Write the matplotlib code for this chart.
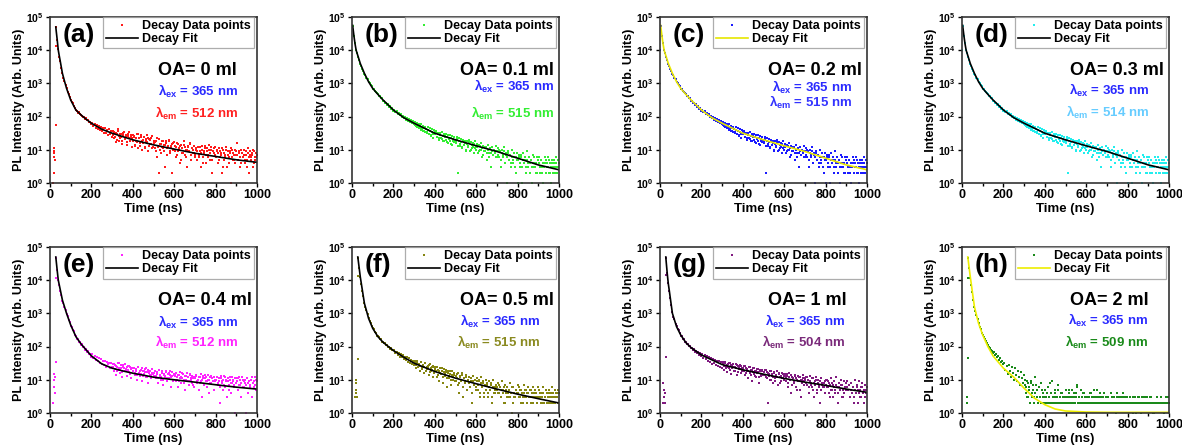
"""TRPL decay curves for the eight OA amounts, 2 x 4 grid -> out.png"""
import numpy as np
import matplotlib
matplotlib.use("Agg")
import matplotlib.pyplot as plt
from matplotlib.ticker import FixedLocator, MultipleLocator, NullLocator

plt.rcParams["font.family"] = ["Liberation Sans", "DejaVu Sans"]
plt.rcParams["font.weight"] = "bold"
plt.rcParams["mathtext.fontset"] = "custom"
plt.rcParams["mathtext.rm"] = "Liberation Sans:bold"
plt.rcParams["mathtext.it"] = "Liberation Sans:bold"
plt.rcParams["mathtext.bf"] = "Liberation Sans:bold"

N = np.nan

# time channels of the measured points (ns)
T_DATA = np.arange(5, 1001, 5)          # 5 ... 1000
T_TAIL = np.arange(302.5, 1000, 5)      # 302.5 ... 997.5 (extra channels in the tail)

# --- measured counts, one row = 100 ns ---
A_DATA = [
    N, N, N, N, N, 50000, 21000, 10500, 6300, 4600, 2900, 2050, 1500, 1200, 890, 720, 560, 490, 380, 320,
    270, 250, 205, 185, 160, 150, 132, 141, 118, 115, 104, 96, 98, 86, 88, 77, 80, 68, 70, 60,
    66, 52, 61, 45, 57, 43, 53, 39, 50, 36, 46, 31, 44, 33, 40, 27, 42, 30, 37, 25,
    38, 22, 33, 17, 29, 41, 19, 30, 24, 15, 33, 21, 28, 14, 26, 35, 18, 24, 12, 27,
    25, 13, 19, 30, 11, 22, 16, 27, 10, 20, 24, 12, 18, 28, 9, 21, 15, 23, 11, 19,
    17, 9, 22, 12, 2, 15, 8, 19, 11, 14, 3, 18, 7, 13, 20, 9, 12, 2, 16, 10,
    13, 6, 16, 9, 11, 4, 14, 8, 18, 7, 10, 3, 12, 9, 15, 5, 11, 8, 13, 6,
    10, 5, 12, 7, 9, 3, 13, 6, 8, 11, 4, 9, 7, 14, 5, 10, 2, 8, 12, 6,
    9, 4, 11, 6, 8, 2, 10, 5, 7, 12, 3, 9, 6, 8, 1, 10, 5, 7, 4, 9,
    16, 5, 8, 3, 10, 6, 7, 4, 9, 5, 11, 2, 7, 6, 8, 3, 9, 5, 6, 7,
]
A_TAIL = [
    27, 35, 24, 31, 20, 37, 26, 22, 30, 18, 28, 34, 21, 25, 17, 30, 23, 19, 27, 22,
    18, 26, 14, 22, 17, 29, 13, 24, 19, 16, 25, 11, 21, 17, 23, 13, 20, 15, 26, 12,
    16, 11, 19, 6, 13, 21, 10, 15, 12, 18, 9, 14, 16, 11, 19, 8, 13, 15, 10, 17,
    9, 12, 7, 15, 10, 13, 5, 11, 8, 14, 12, 6, 10, 13, 9, 16, 7, 11, 10, 8,
    7, 11, 9, 6, 12, 8, 10, 4, 9, 13, 7, 11, 6, 10, 8, 12, 5, 9, 11, 7,
    6, 10, 8, 5, 9, 7, 11, 3, 8, 6, 10, 7, 4, 9, 11, 6, 8, 5, 10, 7,
    7, 5, 9, 6, 4, 8, 6, 10, 5, 7, 3, 8, 6, 9, 5, 7, 10, 4, 6, 8,
]
# (b), (c) and (d) show the same measured set
BCD_DATA = [
    52000, 26000, 16500, 9800, 8100, 6200, 5100, 3900, 3400, 2750, 2400, 1950, 1780, 1480, 1320, 1090, 1020, 870, 810, 690,
    670, 590, 570, 500, 490, 425, 415, 360, 355, 300, 305, 265, 265, 230, 232, 200, 205, 175, 178, 150,
    160, 135, 145, 118, 130, 108, 118, 96, 106, 88, 98, 79, 90, 74, 84, 67, 78, 62, 72, 58,
    70, 52, 64, 47, 60, 44, 58, 41, 53, 38, 50, 35, 47, 30, 45, 28, 42, 22, 39, 36,
    36, 24, 33, 20, 31, 22, 35, 19, 29, 25, 30, 17, 28, 21, 27, 15, 26, 19, 24, 16,
    24, 2, 22, 13, 21, 11, 20, 14, 19, 10, 18, 12, 20, 9, 17, 11, 16, 8, 18, 10,
    15, 8, 14, 10, 16, 6, 13, 9, 12, 5, 14, 8, 11, 3, 12, 7, 10, 9, 13, 6,
    11, 6, 9, 3, 10, 7, 12, 4, 8, 1, 9, 5, 7, 3, 10, 4, 6, 2, 8, 1,
    7, 3, 6, 1, 8, 4, 5, 2, 9, 3, 6, 4, 5, 1, 7, 3, 4, 2, 6, 5,
    6, 2, 5, 3, 1, 4, 5, 3, 6, 2, 4, 1, 5, 3, 4, 2, 6, 3, 5, 4,
]
BCD_TAIL = [
    55, 62, 48, 57, 44, 51, 40, 49, 37, 45, 34, 42, 32, 39, 30, 37, 26, 34, 29, 31,
    29, 34, 25, 30, 22, 28, 21, 26, 18, 27, 20, 24, 16, 22, 19, 23, 14, 21, 17, 20,
    17, 21, 13, 19, 15, 17, 12, 18, 14, 16, 9, 15, 13, 17, 10, 14, 12, 15, 11, 13,
    12, 14, 9, 13, 10, 11, 7, 12, 9, 11, 8, 10, 6, 11, 8, 9, 7, 10, 8, 6,
    9, 7, 10, 5, 8, 6, 9, 4, 7, 6, 8, 5, 7, 4, 6, 5, 8, 3, 6, 5,
    5, 6, 4, 7, 3, 5, 4, 6, 3, 5, 4, 2, 5, 3, 4, 6, 3, 4, 2, 5,
    4, 3, 5, 2, 4, 3, 6, 2, 4, 3, 5, 2, 3, 4, 2, 5, 3, 4, 2, 3,
]
E_DATA = [
    N, N, N, N, N, 48000, 21000, 9800, 7300, 4800, 3650, 2400, 2050, 1520, 1300, 960, 840, 650, 565, 430,
    395, 310, 285, 225, 210, 172, 170, 140, 139, 114, 116, 97, 99, 81, 84, 69, 72, 58, 61, 49,
    58, 44, 52, 40, 47, 36, 45, 33, 41, 30, 38, 27, 36, 24, 34, 29, 31, 22, 33, 25,
    30, 18, 27, 14, 25, 20, 32, 16, 23, 12, 28, 19, 21, 13, 26, 17, 24, 11, 22, 18,
    22, 14, 19, 10, 25, 16, 13, 20, 9, 18, 15, 21, 12, 17, 8, 19, 14, 11, 16, 13,
    18, 11, 15, 8, 20, 13, 10, 16, 7, 14, 12, 17, 9, 15, 11, 19, 6, 13, 10, 14,
    15, 9, 12, 6, 14, 11, 8, 16, 10, 5, 13, 9, 12, 7, 15, 10, 8, 11, 6, 12,
    13, 8, 10, 5, 12, 9, 3, 11, 7, 14, 9, 6, 10, 4, 12, 8, 11, 5, 9, 10,
    12, 7, 9, 2, 11, 8, 5, 13, 6, 10, 3, 9, 7, 12, 4, 8, 10, 6, 1, 11,
    9, 5, 12, 7, 3, 10, 6, 8, 1, 11, 4, 9, 7, 10, 3, 8, 6, 12, 5, 9,
]
E_TAIL = [
    24, 29, 21, 26, 19, 31, 23, 20, 27, 17, 25, 22, 29, 18, 24, 20, 26, 15, 21, 23,
    19, 23, 16, 21, 14, 24, 18, 15, 22, 13, 19, 17, 23, 12, 20, 16, 18, 14, 21, 15,
    16, 19, 13, 17, 11, 20, 14, 12, 18, 10, 15, 13, 19, 11, 16, 14, 12, 17, 9, 15,
    13, 16, 10, 14, 9, 17, 12, 11, 15, 8, 13, 10, 16, 12, 9, 14, 11, 13, 7, 12,
    11, 14, 9, 12, 8, 15, 10, 13, 7, 11, 12, 9, 14, 10, 8, 13, 11, 9, 12, 10,
    10, 12, 8, 11, 6, 13, 9, 10, 7, 12, 9, 11, 5, 10, 8, 12, 9, 7, 11, 8,
    9, 11, 7, 10, 8, 12, 6, 9, 10, 7, 11, 8, 9, 6, 10, 12, 8, 9, 7, 10,
]
F_DATA = [
    N, N, N, N, N, 47000, 24000, 12500, 7600, 4800, 3300, 2050, 1600, 1280, 980, 720, 600, 520, 410, 360,
    330, 270, 262, 215, 212, 190, 168, 165, 140, 142, 124, 126, 110, 112, 97, 100, 86, 90, 78, 79,
    80, 62, 70, 56, 66, 50, 60, 47, 55, 43, 50, 39, 47, 35, 44, 32, 40, 29, 36, 28,
    36, 22, 33, 25, 30, 18, 34, 24, 28, 16, 31, 21, 26, 14, 29, 19, 24, 12, 25, 20,
    24, 12, 20, 9, 22, 15, 18, 8, 21, 13, 17, 6, 19, 11, 15, 7, 18, 10, 14, 9,
    15, 7, 4, 13, 9, 16, 3, 11, 8, 14, 5, 10, 12, 6, 9, 2, 13, 7, 10, 5,
    11, 5, 9, 3, 12, 6, 8, 4, 10, 7, 3, 9, 5, 8, 2, 10, 6, 4, 7, 5,
    8, 4, 6, 3, 9, 5, 2, 7, 4, 6, 3, 5, 8, 4, 1, 6, 3, 5, 4, 7,
    6, 3, 5, 4, 2, 7, 3, 5, 4, 6, 3, 5, 2, 4, 6, 3, 5, 4, 3, 6,
    5, 3, 4, 2, 6, 3, 5, 4, 2, 5, 3, 4, 6, 3, 2, 5, 4, 3, 5, 4,
]
F_TAIL = [
    33, 28, 38, 24, 30, 26, 35, 21, 27, 24, 32, 19, 25, 22, 28, 17, 23, 20, 26, 16,
    21, 18, 25, 14, 19, 16, 22, 12, 17, 15, 20, 11, 16, 13, 18, 10, 14, 12, 16, 9,
    13, 11, 16, 8, 12, 10, 14, 6, 11, 9, 12, 5, 10, 8, 11, 4, 9, 7, 10, 6,
    9, 7, 10, 4, 8, 6, 9, 3, 7, 5, 8, 4, 6, 5, 7, 3, 6, 4, 5, 6,
    6, 4, 7, 3, 5, 4, 6, 2, 5, 3, 4, 5, 3, 4, 6, 2, 4, 3, 5, 4,
    4, 3, 5, 2, 4, 3, 4, 5, 3, 2, 4, 3, 5, 3, 2, 4, 3, 4, 2, 3,
    3, 4, 2, 3, 4, 2, 3, 5, 2, 3, 4, 2, 3, 2, 4, 3, 2, 3, 4, 2,
]
G_DATA = [
    N, N, N, N, N, 48000, 17000, 8300, 4600, 3000, 1750, 1080, 780, 660, 490, 410, 335, 310, 250, 215,
    210, 172, 170, 140, 138, 118, 120, 101, 104, 88, 93, 79, 83, 70, 76, 64, 69, 57, 63, 52,
    60, 45, 55, 41, 52, 38, 49, 35, 46, 30, 43, 33, 40, 28, 38, 26, 36, 24, 34, 22,
    34, 20, 31, 25, 17, 29, 22, 33, 15, 27, 24, 19, 30, 14, 26, 21, 28, 16, 23, 19,
    26, 14, 22, 18, 11, 24, 16, 20, 9, 23, 15, 19, 12, 21, 17, 8, 20, 13, 18, 14,
    20, 12, 17, 2, 15, 10, 19, 13, 8, 16, 11, 14, 18, 7, 15, 12, 9, 16, 11, 13,
    15, 9, 13, 6, 16, 10, 4, 12, 8, 14, 11, 5, 13, 9, 12, 3, 10, 14, 7, 11,
    12, 7, 10, 4, 13, 8, 6, 11, 3, 9, 12, 5, 10, 7, 2, 11, 8, 6, 9, 10,
    10, 6, 8, 3, 11, 5, 7, 9, 4, 12, 6, 2, 8, 5, 10, 7, 3, 9, 6, 8,
    9, 5, 7, 3, 8, 6, 2, 10, 4, 7, 5, 9, 3, 6, 8, 4, 2, 7, 5, 6,
]
G_TAIL = [
    31, 26, 35, 22, 28, 25, 32, 20, 27, 23, 30, 19, 25, 22, 28, 17, 24, 21, 26, 18,
    23, 19, 26, 16, 21, 18, 24, 14, 20, 17, 22, 13, 19, 16, 21, 12, 18, 15, 20, 14,
    17, 14, 20, 11, 16, 13, 18, 10, 15, 12, 17, 9, 14, 12, 16, 8, 13, 11, 15, 10,
    13, 11, 15, 8, 12, 10, 14, 7, 11, 9, 13, 6, 10, 9, 12, 5, 10, 8, 11, 9,
    10, 8, 12, 6, 9, 7, 11, 5, 8, 7, 10, 4, 8, 6, 9, 5, 7, 6, 8, 4,
    7, 6, 9, 4, 7, 5, 8, 3, 6, 5, 7, 4, 6, 5, 7, 3, 5, 4, 6, 5,
    6, 5, 7, 3, 5, 4, 6, 3, 5, 4, 6, 2, 4, 5, 3, 6, 4, 5, 3, 4,
]
H_DATA = [
    N, N, N, N, N, 48000, 24000, 12000, 7000, 4300, 2600, 1600, 1220, 900, 680, 520, 400, 330, 265, 230,
    200, 170, 150, 128, 115, 100, 92, 80, 76, 65, 70, 55, 60, 48, 52, 40, 45, 35, 38, 30,
    32, 20, 26, 15, 28, 18, 12, 24, 16, 10, 22, 14, 9, 19, 12, 7, 17, 11, 8, 14,
    10, 6, 3, 8, 5, 2, 9, 4, 7, 3, 12, 5, 2, 6, 3, 8, 2, 4, 3, 5,
    3, 2, 6, 3, 2, 4, 9, 2, 3, 5, 2, 3, 7, 2, 3, 4, 2, 3, 2, 5,
    2, 3, 4, 2, 3, 5, 2, 3, 2, 4, 6, 2, 3, 2, 5, 3, 2, 4, 2, 3,
    2, 3, 2, 4, 2, 3, 2, 5, 2, 3, 2, 2, 4, 3, 2, 3, 2, 2, 3, 2,
    3, 2, 2, 4, 2, 3, 2, 2, 1, 3, 2, 2, 3, 2, 2, 4, 2, 3, 2, 2,
    2, 3, 2, 2, 1, 2, 3, 2, 2, 2, 3, 2, 1, 2, 2, 3, 2, 2, 3, 2,
    2, 2, 3, 2, 1, 2, 2, 3, 2, 2, 2, 3, 2, 2, 1, 2, 3, 2, 2, 2,
]
H_TAIL = [
    7, 4, 9, 3, 6, 2, 8, 3, 5, 2, 4, 7, 3, 2, 6, 3, 2, 5, 3, 2,
    3, 2, 4, 2, 3, 8, 2, 3, 2, 4, 3, 2, 5, 2, 3, 2, 4, 3, 2, 3,
    2, 3, 2, 5, 3, 2, 3, 2, 4, 2, 3, 7, 2, 3, 2, 3, 4, 2, 3, 2,
    3, 2, 3, 2, 4, 2, 3, 2, 3, 2, 5, 3, 2, 3, 2, 2, 3, 4, 2, 3,
    2, 3, 2, 2, 3, 2, 3, 2, 2, 4, 2, 3, 2, 2, 3, 2, 3, 2, 2, 3,
    2, 2, 3, 2, 2, 3, 2, 2, 1, 2, 3, 2, 2, 3, 2, 2, 2, 3, 2, 2,
    2, 3, 2, 2, 2, 1, 2, 2, 3, 2, 2, 2, 3, 2, 2, 1, 2, 2, 2, 3,
]

# stray points before / at the excitation pulse
A_EXTRA_T, A_EXTRA = [15, 17, 18, 19, 20, 21, 22, 28, 28], [1, 2, 8, 11, 6, 9, 5, 13000, 55]
BCD_EXTRA_T, BCD_EXTRA = [1], [10000]
E_EXTRA_T, E_EXTRA = [15, 18, 20, 21, 22, 24, 28, 28], [2, 10, 15, 6, 12, 4, 12000, 35]
F_EXTRA_T, F_EXTRA = [15, 17, 18, 20, 21, 22, 28, 28], [3, 10, 5, 8, 4, 3, 13000, 42]
G_EXTRA_T, G_EXTRA = [14, 16, 18, 20, 22, 24, 28, 28], [8, 2, 5, 3, 4, 2, 14000, 50]
H_EXTRA_T, H_EXTRA = [22, 24, 25, 28, 28], [2, 3, 2, 12000, 45]

# --- fitted decay curves ---
FIT_T = [28, 30, 35, 40, 45, 50, 60, 70, 80, 100, 125, 150, 175, 200, 250, 300,
         350, 400, 450, 500, 600, 700, 800, 900, 1000]
BCD_FIT_T = [3, 5, 10, 15, 20, 30, 40, 50, 60, 80, 100, 125, 150, 175, 200, 250,
             300, 350, 400, 450, 500, 600, 700, 800, 900, 1000]
A_FIT = [50000, 38000, 20000, 10000, 6600, 4470, 2000, 1175, 708, 316, 158, 112, 83,
         63, 41.7, 31.6, 25.1, 20, 16.8, 14.1, 10.5, 7.9, 6.3, 5.0, 4.2]
BCD_FIT = [56000, 44700, 25100, 15100, 10000, 6310, 3980, 2820, 2000, 1120, 708, 468,
           316, 224, 158, 93, 63, 44.7, 31.6, 25.1, 20, 13.2, 8.9, 5.6, 3.5, 2.5]
E_FIT = [50000, 38000, 19000, 10000, 7080, 5010, 2510, 1585, 1000, 447, 200, 120, 79,
         52.5, 30.2, 22.4, 18.6, 15.8, 13.8, 12.0, 10.0, 8.5, 7.1, 6.0, 5.25]
F_FIT = [50000, 40000, 22400, 12600, 7940, 5010, 2000, 1200, 708, 355, 200, 135, 101,
         76, 48, 31.6, 23.7, 17.8, 14.1, 11.2, 7.6, 5.25, 3.7, 2.7, 2.0]
G_FIT = [50000, 35500, 15800, 7940, 4790, 2820, 1000, 631, 398, 224, 132, 93, 72,
         56, 40, 28.8, 24, 20, 17.2, 14.8, 11, 8.5, 6.8, 5.25, 4.2]
H_FIT = [50000, 40000, 22400, 12600, 7600, 4470, 1585, 891, 501, 224, 100, 52.5, 34.3,
         22.4, 12.0, 5.6, 2.8, 1.78, 1.32, 1.15, 1.07, 1.05, 1.05, 1.05, 1.05]

LETTERS = ["(a)", "(b)", "(c)", "(d)", "(e)", "(f)", "(g)", "(h)"]
OA_LABELS = ["OA= 0 ml", "OA= 0.1 ml", "OA= 0.2 ml", "OA= 0.3 ml",
             "OA= 0.4 ml", "OA= 0.5 ml", "OA= 1 ml", "OA= 2 ml"]
EM_NM = [512, 515, 515, 514, 512, 515, 504, 509]
EX_NM = 365

DATA = [A_DATA, BCD_DATA, BCD_DATA, BCD_DATA, E_DATA, F_DATA, G_DATA, H_DATA]
TAIL = [A_TAIL, BCD_TAIL, BCD_TAIL, BCD_TAIL, E_TAIL, F_TAIL, G_TAIL, H_TAIL]
EXTRA_T = [A_EXTRA_T, BCD_EXTRA_T, BCD_EXTRA_T, BCD_EXTRA_T, E_EXTRA_T, F_EXTRA_T, G_EXTRA_T, H_EXTRA_T]
EXTRA = [A_EXTRA, BCD_EXTRA, BCD_EXTRA, BCD_EXTRA, E_EXTRA, F_EXTRA, G_EXTRA, H_EXTRA]
FITS_T = [FIT_T, BCD_FIT_T, BCD_FIT_T, BCD_FIT_T, FIT_T, FIT_T, FIT_T, FIT_T]
FITS = [A_FIT, BCD_FIT, BCD_FIT, BCD_FIT, E_FIT, F_FIT, G_FIT, H_FIT]

# styling
DATA_COL = ["#ff1a1a", "#33ee33", "#1a1aff", "#22eeee", "#ff22ff", "#858510", "#801a80", "#1a8a1a"]
FIT_COL = ["black", "black", "#e6e600", "black", "black", "black", "black", "#eeee00"]
EM_COL = ["#ff2020", "#33ee33", "#3333ff", "#66ccff", "#ff22ff", "#8a8a20", "#7a2a7a", "#1a8a1a"]
EX_COL = "#2a2aff"
LAM_X = [0.908, 0.976, 0.93, 0.903, 0.908, 0.908, 0.896, 0.90]
LAM_Y = [(0.55, 0.42), (0.58, 0.42), (0.578, 0.488), (0.556, 0.424),
         (0.545, 0.425), (0.55, 0.425), (0.55, 0.425), (0.555, 0.425)]
MS = 2.1

W, H = 1182, 447
LEFTS = [50, 352, 660, 962]
TOPS = [17, 247]
AX_W, AX_H = 207, 166

fig = plt.figure(figsize=(W / 100, H / 100), dpi=100)

for i in range(8):
    r, c = divmod(i, 4)
    ax = fig.add_axes([LEFTS[c] / W, 1 - (TOPS[r] + AX_H) / H, AX_W / W, AX_H / H])
    ax.plot(T_DATA, DATA[i], "s", ms=MS, mew=0, color=DATA_COL[i], label="Decay Data points")
    ax.plot(T_TAIL, TAIL[i], "s", ms=MS, mew=0, color=DATA_COL[i])
    ax.plot(EXTRA_T[i], EXTRA[i], "s", ms=MS, mew=0, color=DATA_COL[i])
    ax.plot(FITS_T[i], FITS[i], "-", lw=1.2, color=FIT_COL[i], label="Decay Fit")

    ax.set_yscale("log")
    ax.set_xlim(0, 1000)
    ax.set_ylim(1, 1e5)
    ax.xaxis.set_major_locator(MultipleLocator(200))
    ax.xaxis.set_minor_locator(MultipleLocator(100))
    ax.yaxis.set_major_locator(FixedLocator([1, 10, 100, 1e3, 1e4, 1e5]))
    ax.yaxis.set_minor_locator(NullLocator())
    ax.set_yticklabels([f"$10^{{{k}}}$" for k in range(6)])
    ax.tick_params(axis="x", which="major", direction="out", length=3, width=1, labelsize=9, pad=1.5)
    ax.tick_params(axis="x", which="minor", direction="out", length=2, width=1)
    ax.tick_params(axis="y", direction="out", length=3, width=1, labelsize=7.5, pad=1.5)
    for sp in ax.spines.values():
        sp.set_color("#333333")
        sp.set_linewidth(1.2)

    ax.set_xlabel("Time (ns)", fontsize=9.5, fontweight="bold", labelpad=1)
    ax.set_ylabel("PL Intensity (Arb. Units)", fontsize=9, fontweight="bold", labelpad=1)

    leg = ax.legend(loc="upper right", bbox_to_anchor=(0.985, 1.0), borderaxespad=0,
                    frameon=True, fancybox=False, fontsize=9, handlelength=2.6,
                    handletextpad=0.3, borderpad=0.25, labelspacing=0.1, markerscale=1.0)
    leg.get_frame().set_edgecolor("#999999")
    leg.get_frame().set_linewidth(0.9)

    ax.text(0.06, 0.89, LETTERS[i], transform=ax.transAxes, fontsize=19,
            fontweight="bold", ha="left", va="center")
    ax.text(0.52, 0.68, OA_LABELS[i], transform=ax.transAxes, fontsize=13,
            fontweight="bold", ha="left", va="center")
    ax.text(LAM_X[i], LAM_Y[i][0], f"λ$_{{ex}}$ = {EX_NM} nm", transform=ax.transAxes,
            fontsize=9.5, fontweight="bold", color=EX_COL, ha="right", va="center")
    ax.text(LAM_X[i], LAM_Y[i][1], f"λ$_{{em}}$ = {EM_NM[i]} nm", transform=ax.transAxes,
            fontsize=9.5, fontweight="bold", color=EM_COL[i], ha="right", va="center")

fig.savefig("out.png", dpi=100)
